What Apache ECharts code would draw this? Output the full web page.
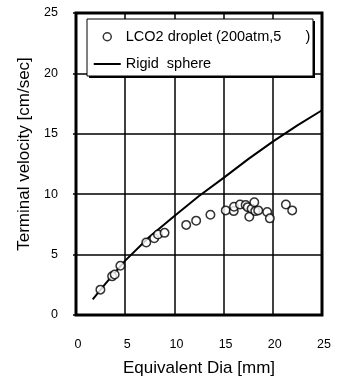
<!DOCTYPE html>
<html><head><meta charset="utf-8">
<script src="https://cdn.jsdelivr.net/npm/echarts@6/dist/echarts.min.js"></script>
<style>html,body{margin:0;padding:0;background:#fff}#c{width:340px;height:382px}</style>
</head><body><div id="c"></div>
<script>
var dropletDia = [2.48,3.67,3.93,4.51,7.14,7.95,8.33,9.0,11.2,12.21,13.66,15.22,16.03,16.06,16.67,17.24,17.45,17.61,17.85,18.12,18.22,18.52,19.43,19.7,21.33,21.97];
var dropletVel = [2.1,3.2,3.36,4.07,6.0,6.36,6.66,6.8,7.46,7.81,8.3,8.66,8.6,8.96,9.15,9.1,8.93,8.14,8.8,9.34,8.6,8.66,8.52,8.0,9.15,8.66];
var sphereDia = [1.7,3,5,7.5,10,12.5,15,17.5,20,22.5,25,25.5];
var sphereVel = [1.3,2.6,4.5,6.5,8.2,9.85,11.35,12.9,14.35,15.7,16.95,17.2];
var xTicks = [0,5,10,15,20,25];
var yTicks = [0,5,10,15,20,25];
var seriesNames = ['LCO2 droplet (200atm,5      )', 'Rigid  sphere'];
var xName = 'Equivalent Dia [mm]';
var yName = 'Terminal velocity [cm/sec]';

var font = 'Arial, "Liberation Sans", sans-serif';
var chart = echarts.init(document.getElementById('c'));
chart.setOption({
  animation: false,
  backgroundColor: '#fff',
  grid: {left: 76, right: 18, top: 13, bottom: 64, show: true, borderColor: '#000', borderWidth: 3, backgroundColor: 'transparent'},
  xAxis: {
    type: 'value', min: xTicks[0], max: xTicks[xTicks.length-1], interval: 5,
    name: xName, nameLocation: 'middle', nameGap: 45,
    nameTextStyle: {fontFamily: font, fontSize: 17, color: '#000'},
    axisLine: {show: false}, axisTick: {show: false},
    axisLabel: {fontFamily: font, fontSize: 12.5, color: '#000', margin: 23, padding: [0,0,0,4]},
    splitLine: {show: true, lineStyle: {color: '#000', width: 1.5}}
  },
  yAxis: {
    type: 'value', min: yTicks[0], max: yTicks[yTicks.length-1], interval: 5,
    name: yName, nameLocation: 'middle', nameGap: 40,
    nameTextStyle: {fontFamily: font, fontSize: 17, color: '#000', padding: [0,0,0,20]},
    axisLine: {show: false},
    axisTick: {show: true, length: 3, lineStyle: {color: '#000', width: 1.5}},
    axisLabel: {fontFamily: font, fontSize: 12.5, color: '#000', margin: 18},
    splitLine: {show: true, lineStyle: {color: '#000', width: 1.5}}
  },
  legend: {
    orient: 'vertical', left: 88, top: 24, itemWidth: 27, itemHeight: 14, itemGap: 12, z: 10,
    textStyle: {fontFamily: font, fontSize: 14.5, color: '#000'},
    data: [
      {name: seriesNames[0], icon: 'path://M0,0 M9.5,7 A4,4 0 1 1 17.5,7 A4,4 0 1 1 9.5,7 Z M27,14',
        itemStyle: {color: '#fff', borderColor: '#000', borderWidth: 1.5}},
      {name: seriesNames[1], icon: 'path://M0,0 M0,6 L27,6 L27,8 L0,8 Z M27,14',
        itemStyle: {color: '#000', borderWidth: 0}}
    ]
  },
  graphic: [
    {type: 'rect', z: 5, shape: {x: 89, y: 21, width: 226, height: 57}, style: {fill: '#000'}},
    {type: 'rect', z: 6, shape: {x: 87, y: 19, width: 226, height: 57}, style: {fill: '#fff', stroke: '#000', lineWidth: 1}}
  ],
  series: [
    {
      name: seriesNames[1], type: 'line', symbol: 'none', clip: false, z: 2,
      lineStyle: {color: '#000', width: 2},
      itemStyle: {color: '#000'},
      data: sphereDia.map(function(d, i){ return [d, sphereVel[i]]; })
    },
    {
      name: seriesNames[0], type: 'scatter', symbol: 'circle', symbolSize: 8.5, z: 3,
      itemStyle: {color: '#fff', borderColor: '#000', borderWidth: 1.5},
      data: dropletDia.map(function(d, i){ return [d, dropletVel[i]]; })
    }
  ]
});
</script></body></html>
